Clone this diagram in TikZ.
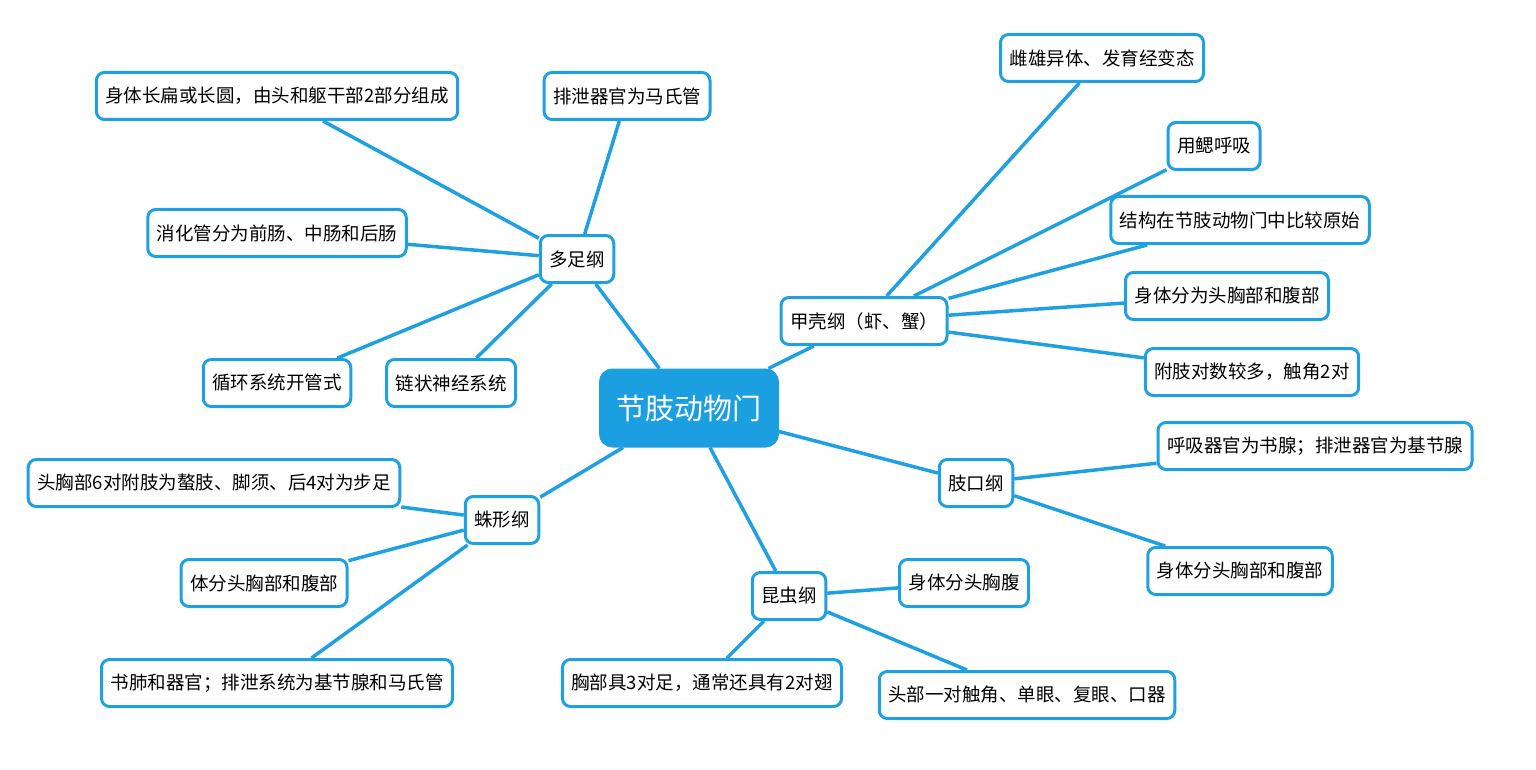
\documentclass[tikz,border=0pt]{standalone}
\usepackage{fontspec}
\newfontfamily\cjk{Noto Sans CJK SC}
\definecolor{mapblue}{HTML}{1FA0E0}
\definecolor{topblue}{HTML}{1C9FE0}

\begin{document}
\begin{tikzpicture}[
  x=1pt, y=-1pt,
  every node/.style = {shape=rectangle, rounded corners=8pt,
    draw=mapblue, line width=3pt, fill=white, align=center,
    font=\cjk\fontsize{18.5}{22}\selectfont,
    inner xsep=9pt, inner ysep=0pt, minimum height=47pt},
  topnode/.style = {fill=topblue, draw=topblue, text=white,
    rounded corners=12pt, font=\cjk\fontsize{29}{34}\selectfont,
    minimum height=76pt, inner xsep=16pt},
  link/.style = {draw=mapblue, line width=3.5pt}]
  \useasboundingbox (0,0) rectangle (1536,770);
  \node[topnode] (top) at (689,408) {节肢动物门};
  % classes
  \node (duozu)  at (577,259) {多足纲};
  \node (jiake)  at (864,321) {甲壳纲（虾、蟹）};
  \node (zhikou) at (976,483) {肢口纲};
  \node (kunchong) at (789,596) {昆虫纲};
  \node (zhuxing)  at (502,520) {蛛形纲};
  % duozu
  \node (duozu1) at (277,96)  {身体长扁或长圆，由头和躯干部2部分组成};
  \node (duozu2) at (627,96)  {排泄器官为马氏管};
  \node (duozu3) at (277,233) {消化管分为前肠、中肠和后肠};
  \node (duozu4) at (277,383) {循环系统开管式};
  \node (duozu5) at (451,383) {链状神经系统};
  % jiake
  \node (jiake1) at (1102,58)  {雌雄异体、发育经变态};
  \node (jiake2) at (1214,146) {用鳃呼吸};
  \node (jiake3) at (1240,220) {结构在节肢动物门中比较原始};
  \node (jiake4) at (1227,296) {身体分为头胸部和腹部};
  \node (jiake5) at (1252,372) {附肢对数较多，触角2对};
  % zhikou
  \node (zhikou1) at (1315,446) {呼吸器官为书腺；排泄器官为基节腺};
  \node (zhikou2) at (1240,571) {身体分头胸部和腹部};
  % kunchong
  \node (kunchong1) at (964,583)  {身体分头胸腹};
  \node (kunchong2) at (702,683)  {胸部具3对足，通常还具有2对翅};
  \node (kunchong3) at (1027,695) {头部一对触角、单眼、复眼、口器};
  % zhuxing
  \node (zhuxing1) at (214,483) {头胸部6对附肢为螯肢、脚须、后4对为步足};
  \node (zhuxing2) at (264,583) {体分头胸部和腹部};
  \node (zhuxing3) at (277,683) {书肺和器官；排泄系统为基节腺和马氏管};

  \foreach \c in {duozu,jiake,zhikou,kunchong,zhuxing}
    \draw[link] (top) -- (\c);
  \foreach \i in {1,...,5} {
    \draw[link] (duozu) -- (duozu\i);
    \draw[link] (jiake) -- (jiake\i);
  }
  \foreach \i in {1,2}
    \draw[link] (zhikou) -- (zhikou\i);
  \foreach \i in {1,2,3} {
    \draw[link] (kunchong) -- (kunchong\i);
    \draw[link] (zhuxing) -- (zhuxing\i);
  }
\end{tikzpicture}
\end{document}
